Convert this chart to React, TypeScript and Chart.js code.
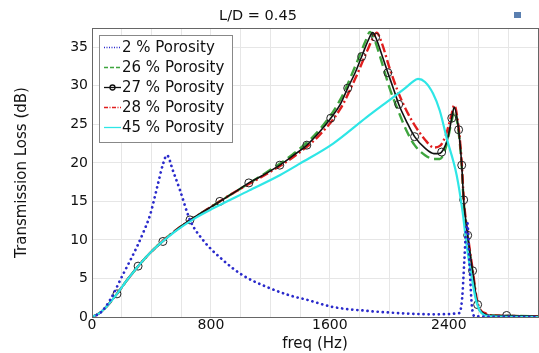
import React, { useEffect, useRef } from "react";
import { Chart, registerables } from "chart.js";
Chart.register(...registerables);

const titleText = "L/D = 0.45";
const xTitle = "freq (Hz)";
const yTitle = "Transmission Loss (dB)";
const seriesNames = ["2 % Porosity", "26 % Porosity", "27 % Porosity", "28 % Porosity", "45 % Porosity"];

const freq2 = [0, 60, 121, 208, 302, 350, 390, 444, 477, 504, 544, 591, 659, 746, 880, 1015, 1176, 1331, 1452, 1620, 1848, 2070, 2292, 2470, 2490, 2505, 2515, 2525, 2540, 2555, 2575, 3000];
const tl2 = [0, 0.6, 2.2, 5.5, 9.1, 11.2, 13.2, 17.3, 19.8, 21.0, 19.0, 16.5, 12.6, 10.0, 7.4, 5.4, 3.9, 2.8, 2.2, 1.3, 0.8, 0.5, 0.35, 0.5, 2.5, 7.5, 11.0, 12.2, 6.5, 1.5, 0.1, 0];

const freq26 = [0, 50, 100, 168, 240, 390, 560, 760, 960, 1160, 1350, 1530, 1670, 1770, 1840, 1870, 1900, 1950, 2000, 2063, 2120, 2170, 2240, 2300, 2340, 2380, 2420, 2436, 2466, 2487, 2500, 2527, 2560, 2594, 2654, 2700, 3000];
const tl26 = [0, 0.5, 1.4, 3.0, 4.9, 8.3, 11.2, 13.8, 16.2, 18.6, 21.1, 24.3, 28.2, 32.5, 35.8, 37.0, 36.0, 33.0, 29.8, 26.6, 24.0, 22.3, 21.0, 20.5, 20.5, 22.0, 25.5, 26.7, 24.0, 19.5, 15.0, 10.4, 5.8, 1.5, 0.3, 0.2, 0.1];

const freq27 = [0, 50, 100, 168, 240, 310, 390, 477, 560, 659, 760, 860, 960, 1055, 1160, 1263, 1350, 1445, 1530, 1606, 1670, 1720, 1770, 1814, 1860, 1888, 1908, 1950, 1990, 2030, 2063, 2120, 2170, 2240, 2300, 2330, 2352, 2390, 2420, 2436, 2466, 2487, 2500, 2527, 2560, 2594, 2625, 2654, 2700, 2789, 3000];
const tl27 = [0, 0.5, 1.4, 3.0, 4.9, 6.6, 8.3, 9.8, 11.2, 12.6, 13.8, 15.0, 16.2, 17.4, 18.5, 19.7, 20.9, 22.3, 24.0, 25.8, 27.6, 29.7, 31.7, 33.8, 36.0, 36.9, 36.3, 34.0, 31.7, 29.5, 27.6, 25.2, 23.4, 21.9, 21.2, 21.2, 21.4, 23.0, 25.8, 27.2, 24.3, 19.7, 15.2, 10.6, 6.0, 1.6, 0.6, 0.3, 0.2, 0.2, 0.1];
const markers27 = [168, 310, 477, 659, 860, 1055, 1263, 1445, 1606, 1720, 1814, 1908, 1990, 2063, 2170, 2352, 2420, 2466, 2487, 2500, 2527, 2560, 2594, 2789];

const freq28 = [0, 50, 100, 168, 240, 390, 560, 760, 960, 1160, 1350, 1530, 1670, 1770, 1850, 1895, 1915, 1950, 2000, 2063, 2120, 2170, 2240, 2300, 2340, 2380, 2420, 2436, 2466, 2487, 2500, 2527, 2560, 2594, 2654, 2700, 3000];
const tl28 = [0, 0.5, 1.4, 3.0, 4.9, 8.3, 11.2, 13.8, 16.2, 18.4, 20.7, 23.6, 27.0, 30.9, 34.5, 36.4, 36.9, 35.5, 32.4, 29.0, 26.6, 24.9, 23.0, 22.0, 22.2, 23.6, 26.4, 27.5, 24.6, 20.0, 15.5, 10.8, 6.2, 1.8, 0.4, 0.2, 0.1];

const freq45 = [0, 50, 100, 168, 240, 390, 560, 700, 815, 1055, 1263, 1398, 1622, 1846, 2025, 2100, 2150, 2193, 2240, 2294, 2339, 2386, 2453, 2493, 2520, 2554, 2587, 2621, 2680, 3000];
const tl45 = [0, 0.5, 1.4, 3.0, 4.9, 8.3, 11.1, 12.9, 14.1, 16.4, 18.4, 19.9, 22.5, 25.9, 28.5, 29.6, 30.4, 30.9, 30.5, 29.0, 26.8, 23.2, 18.4, 13.6, 9.3, 5.1, 1.9, 0.5, 0.1, 0];

const xTickLabels = [0, 800, 1600, 2400];
const yTickLabels = [0, 5, 10, 15, 20, 25, 30, 35];

const FONT = "'DejaVu Sans', sans-serif";
const colors = ["#2a2acb", "#3ea53e", "#111111", "#e01e1e", "#2ee6e6"];
const dashes = [[0.1, 5], [10, 5], [], [9, 3, 2, 3], []];
const widths = [2.7, 2.4, 1.6, 2.4, 2.2];

const pts = (xs: number[], ys: number[]) => xs.map((x, i) => ({ x, y: ys[i] }));

const overlay = {
  id: "overlay",
  afterDraw(chart: any) {
    const ctx = chart.ctx;
    const a = chart.chartArea;
    ctx.save();
    ctx.strokeStyle = "#666";
    ctx.lineWidth = 1;
    ctx.setLineDash([]);
    ctx.strokeRect(a.left + 0.5, a.top + 0.5, a.right - a.left, a.bottom - a.top);
    ctx.fillStyle = "#111";
    ctx.font = "14.5px " + FONT;
    ctx.textAlign = "center";
    ctx.textBaseline = "middle";
    ctx.fillText(titleText, 258, 16);
    ctx.fillStyle = "#5a7fb0";
    ctx.fillRect(514, 12, 7, 6);
    const lx = 99, ly = 35, lw = 133, lh = 107;
    ctx.fillStyle = "#fff";
    ctx.fillRect(lx, ly, lw, lh);
    ctx.strokeStyle = "#888";
    ctx.strokeRect(lx + 0.5, ly + 0.5, lw, lh);
    ctx.font = "15px " + FONT;
    ctx.textAlign = "left";
    for (let i = 0; i < seriesNames.length; i++) {
      const y = ly + 12 + i * 20;
      ctx.strokeStyle = colors[i];
      ctx.lineWidth = i === 0 ? 1.5 : 1.3;
      ctx.setLineDash(i === 0 ? [1, 1.5] : i === 1 ? [4, 2] : i === 3 ? [4, 1.5, 1, 1.5] : []);
      ctx.beginPath();
      ctx.moveTo(lx + 5, y + 0.5);
      ctx.lineTo(lx + 22, y + 0.5);
      ctx.stroke();
      ctx.setLineDash([]);
      if (i === 2) {
        ctx.beginPath();
        ctx.arc(lx + 13.5, y + 0.5, 2.5, 0, Math.PI * 2);
        ctx.stroke();
      }
      ctx.fillStyle = "#111";
      ctx.fillText(seriesNames[i], lx + 23, y + 1);
    }
    ctx.restore();
  },
};

export default function App() {
  const ref = useRef<HTMLCanvasElement>(null);
  useEffect(() => {
    const xs = [freq2, freq26, freq27, freq28, freq45];
    const ys = [tl2, tl26, tl27, tl28, tl45];
    const orders = [0, 4, 2, 3, 1];
    const datasets = xs.map((f, i) => ({
      label: seriesNames[i],
      data: pts(f, ys[i]),
      borderColor: colors[i],
      backgroundColor: "rgba(0,0,0,0)",
      borderWidth: widths[i],
      borderDash: dashes[i],
      borderCapStyle: i === 0 ? "round" : "butt",
      cubicInterpolationMode: "monotone",
      fill: false,
      order: orders[i],
      pointRadius: i === 2 ? f.map((v) => (markers27.includes(v) ? 4 : 0)) : 0,
      pointBorderColor: "#222",
      pointBorderWidth: 1,
      pointBackgroundColor: "rgba(0,0,0,0)",
      pointHoverRadius: 0,
    }));
    const chart = new Chart(ref.current!, {
      type: "line",
      data: { datasets } as any,
      plugins: [overlay],
      options: {
        animation: false,
        responsive: false,
        events: [],
        layout: { padding: { top: 28, right: 1, left: 0, bottom: 0 } },
        plugins: { legend: { display: false }, tooltip: { enabled: false }, title: { display: false } },
        scales: {
          x: {
            type: "linear",
            min: 0,
            max: 3000,
            afterFit: (s: any) => { s.height = 36; },
            ticks: {
              stepSize: 200,
              autoSkip: false,
              maxRotation: 0,
              padding: 0,
              color: "#111",
              font: { family: FONT, size: 14 },
              callback: (v: any) => (xTickLabels.includes(Number(v)) ? String(v) : ""),
            },
            grid: { color: "#e6e6e6", drawTicks: false },
            border: { display: false },
            title: { display: true, text: xTitle, color: "#111", font: { family: FONT, size: 15 }, padding: { top: 0, bottom: 0 } },
          },
          y: {
            type: "linear",
            min: 0,
            max: 37.5,
            afterFit: (s: any) => { s.width = 92; },
            ticks: {
              stepSize: 5,
              autoSkip: false,
              padding: 4,
              color: "#111",
              font: { family: FONT, size: 14 },
              callback: (v: any) => (yTickLabels.includes(Number(v)) ? String(v) : ""),
            },
            grid: { color: "#e6e6e6", drawTicks: false },
            border: { display: false },
            title: { display: true, text: yTitle, color: "#111", font: { family: FONT, size: 15 }, padding: { top: 13, bottom: 0 } },
          },
        },
      } as any,
    });
    return () => chart.destroy();
  }, []);
  return (
    <div style={{ position: "absolute", left: 0, top: 0, width: 539, height: 353, background: "#fff" }}>
      <canvas ref={ref} width={539} height={353} />
    </div>
  );
}
